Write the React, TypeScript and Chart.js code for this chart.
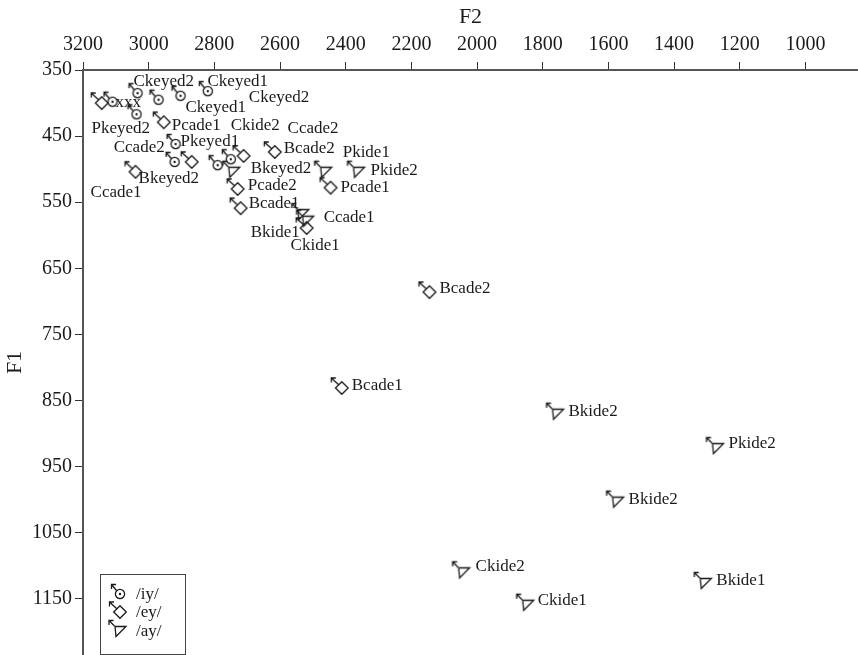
import React, { useEffect, useRef } from "react";
import { Chart, registerables } from "chart.js";

Chart.register(...registerables);

// ---- data ----
const iyLabels = ["xxx", "Ckeyed2", "Ckeyed1", "Ckeyed1", "Ckeyed2", "Pkeyed2", "Pkeyed1", "Bkeyed2", "", "Bkeyed2"];
const iyF2 = [3110, 3034, 2970, 2903, 2820, 3037, 2918, 2921, 2790, 2750];
const iyF1 = [398, 385, 395, 389, 382, 417, 462, 489, 494, 485];

const eyLabels = ["", "Pcade1", "Ccade2", "Ccade2", "Ccade1", "Bcade2", "Pcade1", "Pcade2", "Bcade1", "Ccade1", "Bcade2", "Bcade1"];
const eyF2 = [3143, 2954, 2869, 2711, 3040, 2616, 2446, 2729, 2720, 2519, 2145, 2412];
const eyF1 = [400, 429, 489, 480, 504, 474, 528, 530, 559, 589, 686, 831];

const ayLabels = ["Ckide2", "Pkide1", "Pkide2", "Bkide1", "Ckide1", "Bkide2", "Pkide2", "Bkide2", "Ckide2", "Ckide1", "Bkide1"];
const ayF2 = [2741, 2461, 2361, 2531, 2516, 1755, 1268, 1572, 2041, 1846, 1305];
const ayF1 = [504, 504, 504, 568, 578, 870, 922, 1003, 1110, 1159, 1126];

const seriesNames = ["/iy/", "/ey/", "/ay/"];
const xTicks = [1000, 1200, 1400, 1600, 1800, 2000, 2200, 2400, 2600, 2800, 3000, 3200];
const yTicks = [350, 450, 550, 650, 750, 850, 950, 1050, 1150];

// label placement (pixel offsets from the marker, text baseline)
const iyDx = [3, -4, 27, 27, 41, -45, 5, -36, 0, 20];
const iyDy = [5, -7, 12, -10, 11, 19, 2, 21, 0, 14];
const eyDx = [0, 8, -78, 44, -45, 9, 10, 10, 8, 17, 10, 10];
const eyDy = [0, 8, -10, -23, 25, 1, 4, 1, 0, -6, 1, 2];
const ayDx = [-3, 17, 12, -52, -17, 11, 11, 11, 12, 10, 11];
const ayDy = [-42, -15, 3, 23, 29, 2, 0, 2, -1, 0, 2];

const FONT = '"Liberation Serif", "DejaVu Serif", serif';
const INK = "#1a1a1a";

function makeMarker(kind: string): HTMLCanvasElement {
  const c = document.createElement("canvas");
  c.width = 32;
  c.height = 32;
  const g = c.getContext("2d")!;
  g.translate(16, 16);
  g.strokeStyle = INK;
  g.fillStyle = INK;
  g.lineWidth = 1.3;
  let tail = [-4, -4];
  let tip = [-10.5, -10.5];
  if (kind === "circle") { tail = [-3.5, -3.5]; tip = [-8.5, -9.5]; }
  if (kind === "diamond") { tail = [-3.2, -3.2]; tip = [-10.5, -10]; }
  if (kind === "triangle") { tail = [-5.5, -5]; tip = [-11, -10.5]; }
  g.beginPath();
  g.moveTo(tail[0], tail[1]);
  g.lineTo(tip[0], tip[1]);
  g.moveTo(tip[0] + 4.5, tip[1]);
  g.lineTo(tip[0], tip[1]);
  g.lineTo(tip[0], tip[1] + 4.5);
  g.stroke();
  g.beginPath();
  if (kind === "circle") {
    g.arc(0, 0, 4.6, 0, Math.PI * 2);
    g.stroke();
    g.beginPath();
    g.arc(0, 0, 1.2, 0, Math.PI * 2);
    g.fill();
  } else if (kind === "diamond") {
    g.moveTo(0, -6.3);
    g.lineTo(6.3, 0);
    g.lineTo(0, 6.3);
    g.lineTo(-6.3, 0);
    g.closePath();
    g.stroke();
  } else {
    g.moveTo(-5, -4.5);
    g.lineTo(6, -4.5);
    g.lineTo(-4, 5.5);
    g.closePath();
    g.stroke();
  }
  return c;
}

export default function App() {
  const ref = useRef<HTMLCanvasElement | null>(null);

  useEffect(() => {
    const canvas = ref.current;
    if (!canvas) return;
    const markers = [makeMarker("circle"), makeMarker("diamond"), makeMarker("triangle")];
    const groups = [
      { labels: iyLabels, dx: iyDx, dy: iyDy },
      { labels: eyLabels, dx: eyDx, dy: eyDy },
      { labels: ayLabels, dx: ayDx, dy: ayDy },
    ];

    const labelPlugin = {
      id: "pointLabels",
      afterDatasetsDraw(chart: any) {
        const ctx = chart.ctx as CanvasRenderingContext2D;
        ctx.save();
        ctx.font = `17px ${FONT}`;
        ctx.fillStyle = INK;
        ctx.textAlign = "left";
        ctx.textBaseline = "alphabetic";
        groups.forEach((g, di) => {
          const meta = chart.getDatasetMeta(di);
          meta.data.forEach((pt: any, i: number) => {
            const t = g.labels[i];
            if (!t) return;
            ctx.fillText(t, pt.x + g.dx[i], pt.y + g.dy[i]);
          });
        });
        ctx.restore();
      },
      afterDraw(chart: any) {
        const ctx = chart.ctx as CanvasRenderingContext2D;
        ctx.save();
        ctx.strokeStyle = "#444";
        ctx.lineWidth = 1;
        ctx.strokeRect(100.5, 574.5, 85, 80);
        ctx.font = `17px ${FONT}`;
        ctx.fillStyle = INK;
        ctx.textAlign = "left";
        ctx.textBaseline = "alphabetic";
        const rowY = [594, 612, 631];
        chart.data.datasets.forEach((ds: any, i: number) => {
          const m = markers[i];
          ctx.drawImage(m, 120 - 16, rowY[i] - 16);
          ctx.fillText(ds.label, 136, rowY[i] + 5);
        });
        ctx.restore();
      },
    };

    const mk = (xs: number[], ys: number[]) => xs.map((x, i) => ({ x, y: ys[i] }));

    const axisCommon = {
      grid: { drawOnChartArea: false, drawTicks: true, tickLength: 8, color: "#333", lineWidth: 1 },
      border: { display: true, color: "#555", width: 2 },
    };

    const ds = (i: number, xs: number[], ys: number[]) => ({
      label: seriesNames[i],
      data: mk(xs, ys),
      pointStyle: markers[i],
      pointRadius: 1,
      pointHoverRadius: 1,
      pointBorderWidth: 0,
      borderWidth: 0,
    });

    const chart = new Chart(canvas, {
      type: "scatter",
      data: {
        datasets: [ds(0, iyF2, iyF1), ds(1, eyF2, eyF1), ds(2, ayF2, ayF1)],
      },
      options: {
        animation: false,
        responsive: false,
        events: [],
        layout: { padding: 0, autoPadding: false },
        plugins: { legend: { display: false }, tooltip: { enabled: false } },
        scales: {
          x: {
            type: "linear",
            position: "top",
            reverse: true,
            min: 840,
            max: 3200,
            afterFit: (s: any) => { s.height = 70; s.paddingLeft = 0; s.paddingRight = 0; },
            afterBuildTicks: (s: any) => { s.ticks = xTicks.map((v) => ({ value: v })); },
            ticks: {
              font: { family: FONT, size: 20 }, color: INK, padding: 5, maxRotation: 0, autoSkip: false,
              callback: (v: any) => String(v),
            },
            title: { display: true, text: "F2", font: { family: FONT, size: 22 }, color: INK, padding: { top: 4, bottom: 0 } },
            ...axisCommon,
          },
          y: {
            type: "linear",
            position: "left",
            reverse: true,
            min: 350,
            max: 1235,
            afterFit: (s: any) => { s.width = 83; s.paddingTop = 0; s.paddingBottom = 0; },
            afterBuildTicks: (s: any) => { s.ticks = yTicks.map((v) => ({ value: v })); },
            ticks: {
              font: { family: FONT, size: 20 }, color: INK, padding: 3, autoSkip: false,
              callback: (v: any) => String(v),
            },
            title: { display: true, text: "F1", font: { family: FONT, size: 22 }, color: INK, padding: { top: 2, bottom: 0 } },
            ...axisCommon,
          },
        },
      },
      plugins: [labelPlugin],
    } as any);

    return () => chart.destroy();
  }, []);

  return (
    <div style={{ position: "absolute", left: 0, top: 0, width: 858, height: 655, background: "#fff" }}>
      <canvas ref={ref} width={858} height={655} style={{ width: 858, height: 655, display: "block" }} />
    </div>
  );
}
